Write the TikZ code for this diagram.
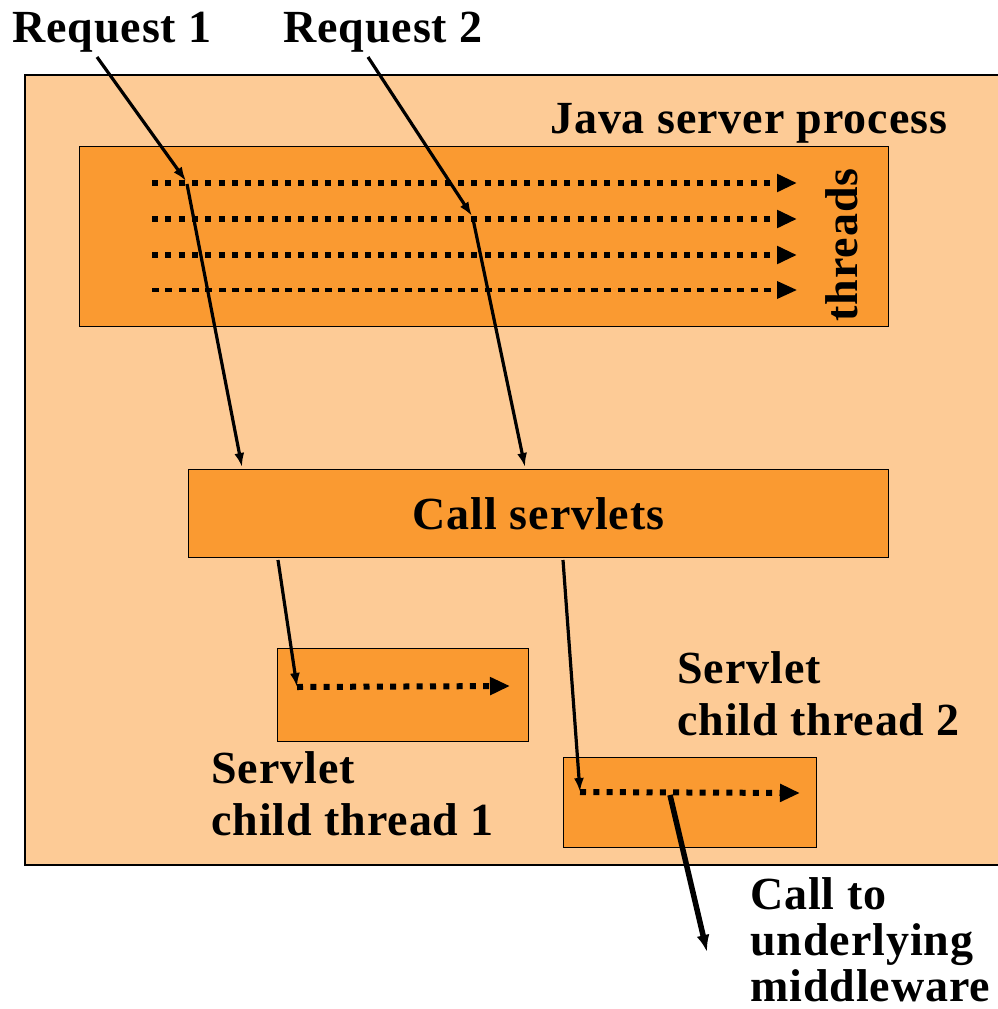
\documentclass[tikz,border=0pt]{standalone}
\usepackage{fontspec}
\setmainfont{Liberation Serif}[LetterSpace=2]
\usetikzlibrary{arrows.meta}
\definecolor{lightorange}{HTML}{FDCB96}
\definecolor{darkorange}{HTML}{FA9A31}
\begin{document}
\begin{tikzpicture}[x=1pt,y=-1pt,
  lbl/.style={font=\fontsize{46}{52}\selectfont\bfseries, inner sep=0pt, anchor=base west},
  box/.style={draw, line width=1.3pt, fill=darkorange, inner sep=0pt, anchor=north west},
  dots/.style={line width=6pt, dash pattern=on 6pt off 7.3pt, -{Triangle[length=20pt,width=17pt]}},
  thin dots/.style={line width=3.5pt, dash pattern=on 7pt off 6.3pt, -{Triangle[length=20pt,width=17pt]}},
  call/.style={line width=3.2pt, -{Latex[length=14pt,width=10pt]}},
  thick call/.style={line width=5.5pt, -{Latex[length=17pt,width=13pt]}}]
\useasboundingbox (0,0) rectangle (998,1009);
% outer process area
\fill[lightorange] (25,75) rectangle (1000,865);
\draw[line width=1.5pt] (1000,75) -- (25,75) -- (25,865) -- (1000,865);
% boxes
\node[box, minimum width=809pt, minimum height=180pt] (jsp) at (79,146) {};
\node[box, minimum width=700pt, minimum height=88pt, font=\fontsize{46}{52}\selectfont\bfseries] (cs) at (188,469) {Call servlets};
\node[box, minimum width=251pt, minimum height=93pt] (ct1) at (277,648) {};
\node[box, minimum width=253pt, minimum height=90pt] (ct2) at (563,757) {};
% labels
\node[lbl] (r1) at (12,42) {Request 1};
\node[lbl] (r2) at (283,42) {Request 2};
\node[lbl] (jsplbl) at (550,133) {Java server process};
\node[lbl, anchor=base, rotate=90] (thr) at (857,245) {threads};
\node[lbl, align=left] (st1) at (211,835) {Servlet\\child thread 1};
\node[lbl, align=left] (st2) at (677,735) {Servlet\\child thread 2};
\node[lbl, align=left, font=\fontsize{46}{46}\selectfont\bfseries] (mw) at (750,1001) {Call to\\underlying\\middleware};
% thread lines
\foreach \i/\y in {1/183,2/219,3/255,4/290}{
  \coordinate (ts\i) at (152,\y);
  \coordinate (te\i) at (797,\y);
}
\draw[dots] (ts1) -- (te1);
\draw[dots] (ts2) -- (te2);
\draw[dots] (ts3) -- (te3);
\draw[thin dots] (ts4) -- (te4);
% request 1 path
\coordinate (r1s) at (97,57);
\coordinate (r1t) at (186,181);
\coordinate (r1u) at (187,184);
\coordinate (cs1) at (242,467);
\draw[call] (r1s) -- (r1t);
\draw[call] (r1u) -- (cs1);
% request 2 path
\coordinate (r2s) at (368,57);
\coordinate (r2t) at (472,216);
\coordinate (r2u) at (473,219);
\coordinate (cs2) at (525,467);
\draw[call] (r2s) -- (r2t);
\draw[call] (r2u) -- (cs2);
% to child thread 1
\coordinate (c1s) at (278,560);
\coordinate (c1a) at (297,687);
\coordinate (c1e) at (510,686);
\draw[call] (c1s) -- (c1a);
\draw[dots] (c1a) -- (c1e);
% to child thread 2
\coordinate (c2s) at (563,560);
\coordinate (c2a) at (580,792);
\coordinate (c2e) at (800,793);
\draw[call] (c2s) -- (c2a);
\draw[dots] (c2a) -- (c2e);
% call to middleware
\coordinate (mws) at (670,795);
\coordinate (mwe) at (707,952);
\draw[thick call] (mws) -- (mwe);
\end{tikzpicture}
\end{document}
